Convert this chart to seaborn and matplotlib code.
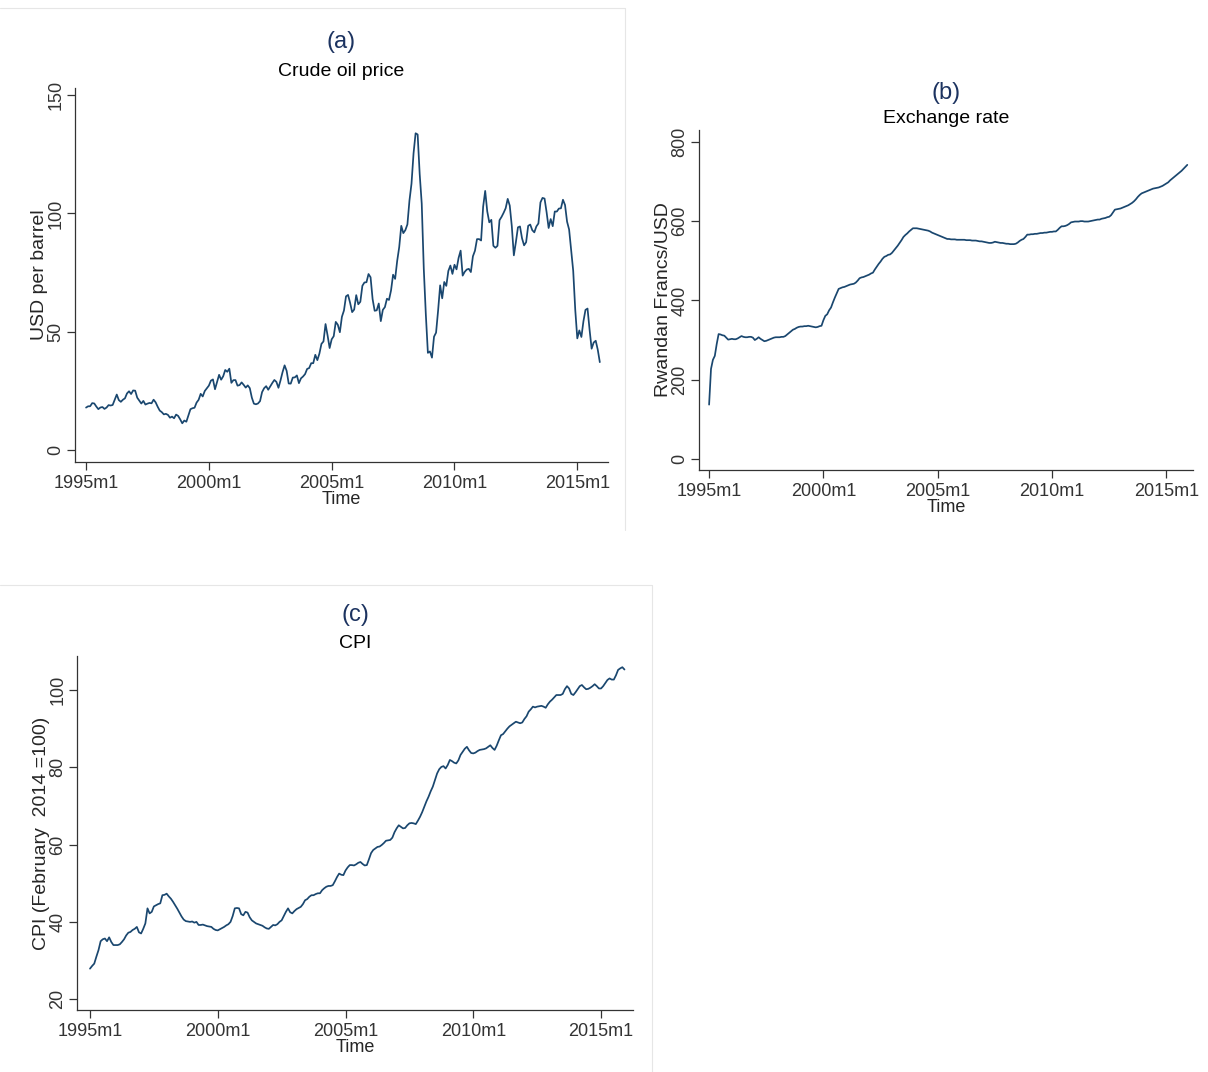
import numpy as np
import pandas as pd
import seaborn as sns
import matplotlib
matplotlib.use("Agg")
from matplotlib import pyplot as plt
from matplotlib.lines import Line2D

# monthly series, 1995m1 .. 2015m12
oil = [
    17.99, 18.53, 18.55, 19.87, 19.74, 18.45, 17.33, 18.02, 18.23, 17.43, 17.99, 19.03,
    18.86, 19.09, 21.33, 23.50, 21.17, 20.42, 21.30, 21.90, 23.97, 24.88, 23.71, 25.23,
    25.13, 22.18, 20.97, 19.70, 20.82, 19.26, 19.66, 19.95, 19.80, 21.33, 20.19, 18.33,
    16.72, 16.06, 15.12, 15.35, 14.91, 13.72, 14.17, 13.47, 15.03, 14.46, 13.00, 11.35,
    12.52, 12.01, 14.68, 17.31, 17.72, 17.92, 20.10, 21.28, 23.80, 22.69, 25.00, 26.10,
    27.26, 29.37, 29.89, 25.74, 28.78, 31.83, 29.77, 31.22, 33.88, 33.11, 34.42, 28.44,
    29.59, 29.61, 27.25, 27.49, 28.63, 27.60, 26.43, 27.37, 26.20, 22.17, 19.64, 19.39,
    19.72, 20.72, 24.53, 26.18, 27.04, 25.52, 26.97, 28.39, 29.66, 28.84, 26.35, 29.46,
    32.95, 35.83, 33.51, 28.17, 28.11, 30.66, 30.75, 31.57, 28.31, 30.34, 31.11, 32.13,
    34.31, 34.69, 36.74, 36.75, 40.28, 38.03, 40.78, 44.90, 45.94, 53.28, 48.47, 43.15,
    46.84, 48.15, 54.19, 52.98, 49.83, 56.35, 59.00, 64.99, 65.59, 62.26, 58.32, 59.41,
    65.49, 61.63, 62.69, 69.44, 70.84, 70.95, 74.41, 73.04, 63.80, 58.89, 59.08, 61.96,
    54.51, 59.28, 60.44, 63.98, 63.46, 67.49, 74.12, 72.36, 79.92, 85.80, 94.77, 91.69,
    92.97, 95.39, 105.45, 112.58, 125.40, 133.88, 133.37, 116.67, 104.11, 76.61, 57.31, 41.12,
    41.71, 39.09, 47.94, 49.65, 59.03, 69.64, 64.15, 71.05, 69.41, 75.72, 77.99, 74.47,
    78.33, 76.39, 81.20, 84.29, 73.74, 75.34, 76.32, 76.60, 75.24, 81.89, 84.25, 89.15,
    89.17, 88.58, 102.86, 109.53, 100.90, 96.26, 97.30, 86.33, 85.52, 86.32, 97.16, 98.56,
    100.27, 102.20, 106.16, 103.32, 94.65, 82.30, 87.90, 94.13, 94.51, 89.49, 86.53, 87.86,
    94.76, 95.31, 92.94, 92.02, 94.51, 95.77, 104.67, 106.57, 106.29, 100.54, 93.86, 97.63,
    94.62, 100.82, 100.80, 102.07, 102.18, 105.79, 103.59, 96.54, 93.21, 84.40, 75.79, 59.29,
    47.22, 50.58, 47.82, 54.45, 59.27, 59.82, 50.90, 42.87, 45.48, 46.22, 42.44, 37.19,
]

exrate = [
    137, 227, 250, 260, 290, 315, 314, 312, 311, 306, 301, 302,
    303, 302, 302, 304, 307, 310, 308, 307, 307, 308, 308, 306,
    300, 303, 307, 303, 300, 297, 298, 300, 302, 304, 306, 307,
    307, 307, 308, 308, 310, 314, 318, 322, 326, 328, 331, 333,
    334, 334, 335, 335, 336, 335, 334, 333, 332, 333, 335, 336,
    350, 361, 365, 375, 382, 395, 407, 418, 429, 431, 433, 434,
    436, 438, 440, 441, 442, 445, 450, 456, 458, 459, 461, 463,
    465, 468, 470, 478, 485, 492, 498, 505, 510, 512, 515, 516,
    520, 526, 532, 538, 545, 552, 560, 565, 569, 574, 578, 582,
    582, 582, 581, 580, 579, 578, 577, 576, 574, 571, 569, 567,
    565, 563, 561, 559, 557, 555, 555, 554, 554, 554, 553, 553,
    553, 553, 553, 552, 552, 552, 551, 551, 551, 550, 549, 549,
    548, 547, 546, 545, 545, 546, 548, 547, 546, 545, 545, 544,
    543, 543, 542, 542, 542, 543, 546, 550, 553, 555, 560, 566,
    566, 567, 567, 568, 568, 569, 570, 570, 571, 571, 572, 573,
    573, 574, 574, 578, 583, 587, 587, 588, 590, 593, 597, 598,
    599, 599, 599, 600, 600, 599, 599, 599, 600, 601, 602, 603,
    604, 604, 606, 607, 608, 610, 611, 615, 622, 629, 630, 631,
    632, 634, 636, 638, 640, 643, 646, 650, 655, 661, 666, 670,
    672, 674, 676, 678, 680, 682, 683, 684, 685, 687, 689, 692,
    695, 698, 703, 707, 711, 715, 719, 723, 727, 732, 737, 742,
]

cpi = [
    27.9, 28.6, 29.2, 31.0, 32.7, 35.0, 35.5, 35.7, 35.0, 36.0, 34.8, 34.0,
    34.0, 34.0, 34.2, 34.8, 35.5, 36.5, 37.2, 37.4, 37.9, 38.2, 38.7, 37.3,
    37.0, 38.2, 39.6, 43.5, 42.2, 42.6, 44.0, 44.3, 44.6, 44.8, 46.9, 47.0,
    47.3, 46.6, 46.0, 45.2, 44.3, 43.4, 42.4, 41.4, 40.6, 40.2, 40.1, 40.0,
    40.1, 39.8, 40.0, 39.2, 39.2, 39.3, 39.1, 38.9, 38.8, 38.7, 38.2, 37.9,
    37.8, 38.1, 38.4, 38.7, 39.1, 39.4, 40.0, 41.5, 43.5, 43.6, 43.5, 42.0,
    41.7, 42.6, 42.4, 41.2, 40.4, 40.0, 39.6, 39.4, 39.2, 39.0, 38.6, 38.3,
    38.2, 38.7, 39.2, 39.1, 39.4, 40.0, 40.4, 41.5, 42.6, 43.5, 42.5, 42.2,
    42.8, 43.3, 43.6, 43.9, 44.6, 45.6, 45.9, 46.5, 46.9, 46.9, 47.2, 47.4,
    47.4, 48.2, 48.7, 49.1, 49.3, 49.3, 49.5, 50.5, 51.6, 52.5, 52.2, 52.1,
    53.3, 54.1, 54.7, 54.7, 54.6, 54.9, 55.3, 55.5, 55.0, 54.6, 54.7, 56.2,
    57.8, 58.6, 59.0, 59.4, 59.5, 59.9, 60.4, 61.0, 61.1, 61.2, 61.8, 63.2,
    64.2, 65.0, 64.6, 64.2, 64.3, 65.0, 65.5, 65.6, 65.5, 65.3, 66.2, 67.2,
    68.4, 69.8, 71.2, 72.4, 73.8, 75.0, 76.7, 78.4, 79.5, 80.1, 80.3, 79.7,
    80.6, 81.9, 81.6, 81.2, 81.0, 81.8, 83.2, 84.0, 84.8, 85.3, 84.4, 83.7,
    83.6, 83.8, 84.2, 84.5, 84.6, 84.7, 84.9, 85.3, 85.7, 85.0, 84.5, 85.6,
    87.0, 88.3, 88.6, 89.3, 90.0, 90.6, 91.0, 91.4, 91.8, 91.6, 91.4, 91.6,
    92.5, 93.2, 94.4, 95.0, 95.7, 95.5, 95.7, 95.8, 95.9, 95.7, 95.4, 96.3,
    97.0, 97.5, 98.1, 98.7, 98.7, 98.7, 99.0, 100.2, 101.0, 100.4, 99.0, 98.7,
    99.4, 100.2, 101.0, 101.3, 100.7, 100.2, 100.3, 100.6, 101.0, 101.5, 101.0, 100.4,
    100.4, 101.0, 101.8, 102.6, 103.0, 102.7, 102.7, 103.8, 105.2, 105.6, 105.9, 105.3,
]

xtick_labels = ["1995m1", "2000m1", "2005m1", "2010m1", "2015m1"]
xtick_pos = [0, 60, 120, 180, 240]

df = pd.DataFrame({"t": np.arange(len(oil)), "oil": oil, "exrate": exrate, "cpi": cpi})

sns.set_theme(style="white")
plt.rcParams["font.family"] = ["Liberation Sans Narrow", "Liberation Sans", "DejaVu Sans"]
plt.rcParams["axes.edgecolor"] = "#333333"
plt.rcParams["xtick.color"] = "#333333"
plt.rcParams["ytick.color"] = "#333333"

navy = "#1a476f"
W, H = 1208, 1072
fig = plt.figure(figsize=(W / 100, H / 100), dpi=100)
fig.patch.set_facecolor("white")


def px_axes(l, t, r, b):
    return fig.add_axes([l / W, 1 - b / H, (r - l) / W, (b - t) / H])


panels = [
    dict(box=(75, 88, 608, 462), col="oil", ylim=(-5, 153), yt=[0, 50, 100, 150],
         tag="(a)", title="Crude oil price", ylab="USD per barrel", xlim=(-5.4, 255),
         tag_off=46, title_off=17),
    dict(box=(699, 130, 1193, 470), col="exrate", ylim=(-28, 830), yt=[0, 200, 400, 600, 800],
         tag="(b)", title="Exchange rate", ylab="Rwandan Francs/USD", xlim=(-5.3, 254),
         tag_off=37, title_off=11),
    dict(box=(77, 656, 633, 1010), col="cpi", ylim=(17.2, 108.8), yt=[20, 40, 60, 80, 100],
         tag="(c)", title="CPI", ylab="CPI (February  2014 =100)", xlim=(-6.1, 255),
         tag_off=41, title_off=13),
]

for p in panels:
    ax = px_axes(*p["box"])
    sns.lineplot(data=df, x="t", y=p["col"], ax=ax, color=navy, linewidth=1.25)
    ax.set_xlim(*p["xlim"])
    ax.set_ylim(*p["ylim"])
    ax.set_xticks(xtick_pos)
    ax.set_xticklabels(xtick_labels, fontsize=13)
    ax.set_yticks(p["yt"])
    ax.set_yticklabels([str(v) for v in p["yt"]], rotation=90, va="center", fontsize=13)
    ax.tick_params(axis="both", direction="out", length=6, width=0.9, pad=3,
                   bottom=True, left=True)
    ax.tick_params(axis="y", pad=1.5)
    ax.set_xlabel("Time", fontsize=13, labelpad=0)
    ax.set_ylabel(p["ylab"], fontsize=14, labelpad=0,
                  family=["Liberation Sans", "DejaVu Sans"])
    for s in ["top", "right"]:
        ax.spines[s].set_visible(False)
    for s in ["left", "bottom"]:
        ax.spines[s].set_linewidth(0.9)
    ax.annotate(p["tag"], xy=(0.5, 1), xycoords="axes fraction",
                xytext=(0, p["tag_off"] * 0.72), textcoords="offset points",
                ha="center", va="center", fontsize=17, color="#1c3360")
    ax.annotate(p["title"], xy=(0.5, 1), xycoords="axes fraction",
                xytext=(0, p["title_off"] * 0.72), textcoords="offset points",
                ha="center", va="center", fontsize=14, color="black")

# faint graph-region borders
border = "#e6e6e6"
for (x0, y0, x1, y1) in [(0, 8, 625, 8), (625, 8, 625, 530),
                         (0, 585, 652, 585), (652, 585, 652, 1072)]:
    fig.add_artist(Line2D([x0 / W, x1 / W], [1 - y0 / H, 1 - y1 / H],
                          color=border, linewidth=0.8))

plt.savefig("out.png", dpi=100, facecolor="white")
